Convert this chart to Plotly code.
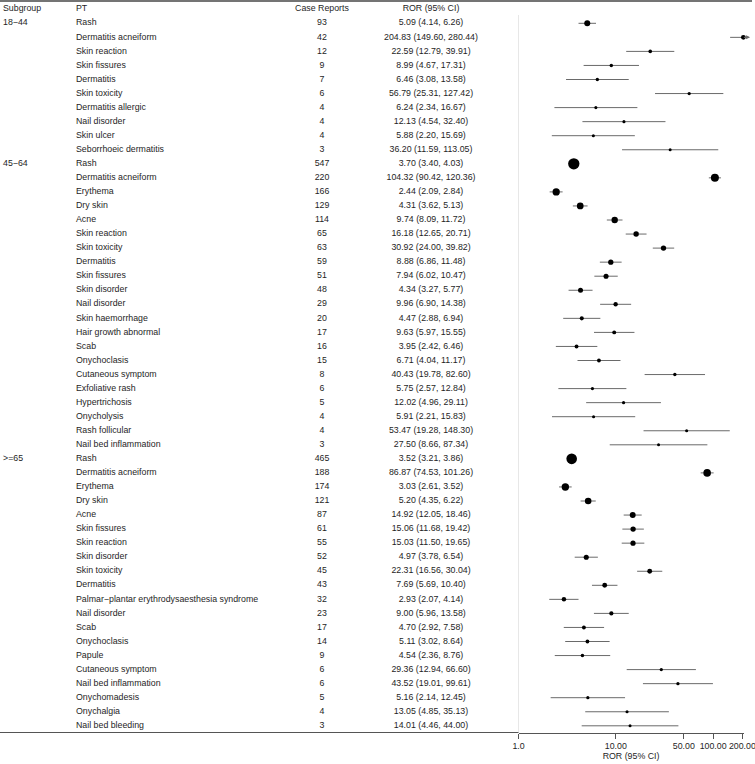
import math
import plotly.graph_objects as go

# ---------------- data ----------------
groups = ["18−44", "45−64", ">=65"]
group_sizes = [10, 21, 20]

pt = [
    "Rash", "Dermatitis acneiform", "Skin reaction", "Skin fissures", "Dermatitis",
    "Skin toxicity", "Dermatitis allergic", "Nail disorder", "Skin ulcer", "Seborrhoeic dermatitis",
    "Rash", "Dermatitis acneiform", "Erythema", "Dry skin", "Acne", "Skin reaction",
    "Skin toxicity", "Dermatitis", "Skin fissures", "Skin disorder", "Nail disorder",
    "Skin haemorrhage", "Hair growth abnormal", "Scab", "Onychoclasis", "Cutaneous symptom",
    "Exfoliative rash", "Hypertrichosis", "Onycholysis", "Rash follicular", "Nail bed inflammation",
    "Rash", "Dermatitis acneiform", "Erythema", "Dry skin", "Acne", "Skin fissures",
    "Skin reaction", "Skin disorder", "Skin toxicity", "Dermatitis",
    "Palmar−plantar erythrodysaesthesia syndrome", "Nail disorder", "Scab", "Onychoclasis",
    "Papule", "Cutaneous symptom", "Nail bed inflammation", "Onychomadesis", "Onychalgia",
    "Nail bed bleeding",
]
cases = [
    93, 42, 12, 9, 7, 6, 4, 4, 4, 3,
    547, 220, 166, 129, 114, 65, 63, 59, 51, 48, 29, 20, 17, 16, 15, 8, 6, 5, 4, 4, 3,
    465, 188, 174, 121, 87, 61, 55, 52, 45, 43, 32, 23, 17, 14, 9, 6, 6, 5, 4, 3,
]
ror = [
    5.09, 204.83, 22.59, 8.99, 6.46, 56.79, 6.24, 12.13, 5.88, 36.20,
    3.70, 104.32, 2.44, 4.31, 9.74, 16.18, 30.92, 8.88, 7.94, 4.34, 9.96, 4.47, 9.63, 3.95,
    6.71, 40.43, 5.75, 12.02, 5.91, 53.47, 27.50,
    3.52, 86.87, 3.03, 5.20, 14.92, 15.06, 15.03, 4.97, 22.31, 7.69, 2.93, 9.00, 4.70,
    5.11, 4.54, 29.36, 43.52, 5.16, 13.05, 14.01,
]
lower = [
    4.14, 149.60, 12.79, 4.67, 3.08, 25.31, 2.34, 4.54, 2.20, 11.59,
    3.40, 90.42, 2.09, 3.62, 8.09, 12.65, 24.00, 6.86, 6.02, 3.27, 6.90, 2.88, 5.97, 2.42,
    4.04, 19.78, 2.57, 4.96, 2.21, 19.28, 8.66,
    3.21, 74.53, 2.61, 4.35, 12.05, 11.68, 11.50, 3.78, 16.56, 5.69, 2.07, 5.96, 2.92,
    3.02, 2.36, 12.94, 19.01, 2.14, 4.85, 4.46,
]
upper = [
    6.26, 280.44, 39.91, 17.31, 13.58, 127.42, 16.67, 32.40, 15.69, 113.05,
    4.03, 120.36, 2.84, 5.13, 11.72, 20.71, 39.82, 11.48, 10.47, 5.77, 14.38, 6.94, 15.55,
    6.46, 11.17, 82.60, 12.84, 29.11, 15.83, 148.30, 87.34,
    3.86, 101.26, 3.52, 6.22, 18.46, 19.42, 19.65, 6.54, 30.04, 10.40, 4.14, 13.58, 7.58,
    8.64, 8.76, 66.60, 99.61, 12.45, 35.13, 44.00,
]
tick_vals = [1, 10, 50, 100, 200]
tick_text = ["1.0", "10.00", "50.00", "100.00", "200.00"]
header = ["Subgroup", "PT", "Case Reports", "ROR (95% CI)"]
x_title = "ROR (95% CI)"

# ---------------- geometry ----------------
W, H = 755, 764
row0_px, pitch = 23.3, 14.05
bottom_px = 732.5
n = len(pt)
rows = list(range(n))
y_top = (0 - row0_px) / pitch
y_bot = (bottom_px - row0_px) / pitch
y_dom = [(H - bottom_px) / H, 1.0]
x_lo_px = 518.5
px_per_decade = 97.3
xmax = tick_vals[-1]
x_range_hi = math.log10(xmax) + 0.012          # tiny pad so the end tick/point show
x_hi_px = x_lo_px + px_per_decade * x_range_hi

FONT = "Liberation Sans, Arial, sans-serif"
TXT = "#1e1e1e"
FS = 8.8

subgroup_col = []
for g, s in zip(groups, group_sizes):
    subgroup_col += [g] + [""] * (s - 1)
ror_text = [f"{r:.2f} ({l:.2f}, {u:.2f})" for r, l, u in zip(ror, lower, upper)]

fig = go.Figure()

def text_trace(xs, ys, texts, pos):
    return go.Scatter(x=xs, y=ys, text=texts, mode="text", textposition=pos,
                      textfont=dict(family=FONT, size=FS, color=TXT),
                      hoverinfo="skip", showlegend=False, cliponaxis=False)

col_x = {"sub": 3, "pt": 76, "cases": 322, "ror": 431}
fig.add_trace(text_trace([col_x["sub"]] * n, rows, subgroup_col, "middle right"))
fig.add_trace(text_trace([col_x["pt"]] * n, rows, pt, "middle right"))
fig.add_trace(text_trace([col_x["cases"]] * n, rows, [str(c) for c in cases], "middle center"))
fig.add_trace(text_trace([col_x["ror"]] * n, rows, ror_text, "middle center"))
fig.add_trace(text_trace([col_x["sub"], col_x["pt"]], [-1, -1], header[:2], "middle right"))
fig.add_trace(text_trace([col_x["cases"], col_x["ror"]], [-1, -1], header[2:], "middle center"))

# reference line at 1
fig.add_trace(go.Scatter(x=[1, 1], y=[-0.59, y_bot], mode="lines", xaxis="x2", yaxis="y2",
                         line=dict(color="#cfcfcf", width=1), hoverinfo="skip", showlegend=False))

# CI lines (clipped at the axis limit; arrow added for those beyond)
cx, cy = [], []
for i in rows:
    cx += [lower[i], min(upper[i], xmax), None]
    cy += [i, i, None]
fig.add_trace(go.Scatter(x=cx, y=cy, mode="lines", xaxis="x2", yaxis="y2",
                         line=dict(color="#6a6a6a", width=1), hoverinfo="skip", showlegend=False))

# points
sizes = [2.34 + 0.383 * math.sqrt(c) for c in cases]
fig.add_trace(go.Scatter(x=ror, y=rows, mode="markers", xaxis="x2", yaxis="y2",
                         marker=dict(color="black", size=sizes, opacity=1, line=dict(width=0)),
                         cliponaxis=False, hoverinfo="skip", showlegend=False))

annotations = []
for i in rows:
    if upper[i] > xmax:
        annotations.append(dict(x=math.log10(xmax * 1.2), y=i, xref="x2", yref="y2",
                                ax=math.log10(xmax), ay=i, axref="x2", ayref="y2",
                                text="", showarrow=True, arrowhead=2, arrowsize=0.8,
                                arrowwidth=1, arrowcolor="#6a6a6a", standoff=0, startstandoff=0))

shapes = [
    dict(type="line", xref="paper", yref="paper", x0=0, x1=752 / W,
         y0=1 - 1 / H, y1=1 - 1 / H, line=dict(color="#747474", width=2)),
    dict(type="line", xref="paper", yref="paper", x0=0, x1=x_lo_px / W,
         y0=y_dom[0], y1=y_dom[0], line=dict(color="#555555", width=1)),
]

fig.update_layout(
    width=W, height=H, margin=dict(l=0, r=0, t=0, b=0),
    paper_bgcolor="white", plot_bgcolor="rgba(0,0,0,0)",
    showlegend=False, shapes=shapes, annotations=annotations,
    xaxis=dict(domain=[0, 1], range=[0, W], visible=False, fixedrange=True),
    yaxis=dict(domain=y_dom, range=[y_bot, y_top], visible=False, fixedrange=True),
    xaxis2=dict(domain=[x_lo_px / W, x_hi_px / W], type="log",
                range=[0, x_range_hi], anchor="y2",
                showline=True, linecolor="#555555", linewidth=1,
                ticks="outside", ticklen=5, tickcolor="#555555", tickwidth=1,
                tickvals=tick_vals, ticktext=tick_text, showgrid=False, zeroline=False,
                ticklabeloverflow="allow",
                tickfont=dict(family=FONT, size=FS, color=TXT),
                title=dict(text=x_title, font=dict(family=FONT, size=FS, color=TXT), standoff=2),
                automargin=False),
    yaxis2=dict(domain=y_dom, matches="y", range=[y_bot, y_top], anchor="x2",
                visible=False, fixedrange=True),
)

fig.write_html("out.html")
